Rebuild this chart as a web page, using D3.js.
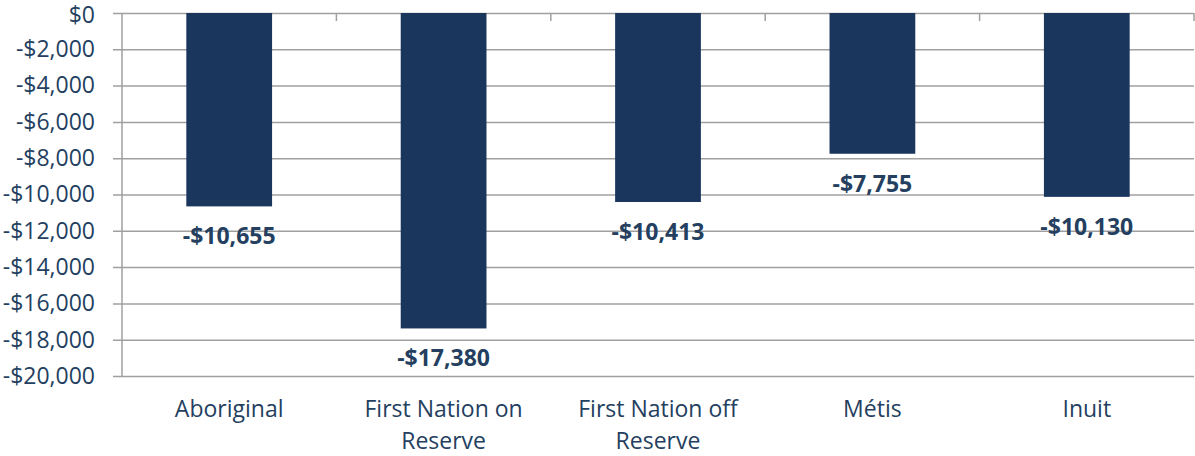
<!DOCTYPE html>
<html>
<head>
<meta charset="utf-8">
<script src="https://cdn.jsdelivr.net/npm/d3@7"></script>
<style>
  body { margin: 0; background: #fff; }
  svg { display: block; }
</style>
</head>
<body>
<div id="container"></div>
<script>
const categories = [["Aboriginal"], ["First Nation on", "Reserve"], ["First Nation off", "Reserve"], ["Métis"], ["Inuit"]];
const values = [-10655, -17380, -10413, -7755, -10130];
const yTicks = [0, -2000, -4000, -6000, -8000, -10000, -12000, -14000, -16000, -18000, -20000];

const w = 1195;
const h = 456;
const plotLeft = 122, plotRight = 1194, plotTop = 13, plotBottom = 376;
const navy = "#1b365d";
const textColor = "#243f60";
const grid = "#a0a0a0";
const font = "'Open Sans', sans-serif";

const svg = d3.select("#container").append("svg")
  .attr("width", w).attr("height", h);

const x = d3.scaleBand()
  .domain(d3.range(values.length))
  .range([plotLeft, plotRight])
  .paddingInner(0.6)
  .paddingOuter(0.3);

const y = d3.scaleLinear()
  .domain([0, -20000])
  .range([plotTop, plotBottom]);

const fmt = v => (v < 0 ? "-$" : "$") + d3.format(",")(Math.abs(v));

// gridlines + y axis
const yAxis = d3.axisLeft(y).tickValues(yTicks).tickFormat(fmt)
  .tickSize(-(plotRight - plotLeft)).tickPadding(27);
const yg = svg.append("g")
  .attr("transform", "translate(" + plotLeft + ",0)")
  .call(yAxis);
yg.select(".domain").remove();
yg.selectAll(".tick line").attr("stroke", grid).attr("stroke-width", 1.5).attr("x1", -9);
yg.selectAll(".tick text")
  .attr("fill", textColor).style("font-family", font).style("font-size", "23px");
// keep the "$0" label inside the top edge
yg.selectAll(".tick text").filter(d => d === 0).attr("dy", "0.42em");

// vertical axis line
svg.append("line")
  .attr("x1", plotLeft).attr("x2", plotLeft).attr("y1", plotTop).attr("y2", plotBottom)
  .attr("stroke", grid).attr("stroke-width", 1.5);

// category separators on the zero line
const bounds = d3.range(1, values.length + 1).map(i => plotLeft + i * (plotRight - plotLeft) / values.length);
svg.selectAll(".sep").data(bounds).enter().append("line")
  .attr("class", "sep")
  .attr("x1", d => d).attr("x2", d => d)
  .attr("y1", plotTop).attr("y2", plotTop + 8)
  .attr("stroke", grid).attr("stroke-width", 1.5);

// bars
svg.selectAll(".bar").data(values).enter().append("rect")
  .attr("class", "bar")
  .attr("x", (d, i) => x(i))
  .attr("y", y(0))
  .attr("width", x.bandwidth())
  .attr("height", d => y(d) - y(0))
  .attr("fill", navy);

// value labels
svg.selectAll(".lbl").data(values).enter().append("text")
  .attr("class", "lbl")
  .attr("x", (d, i) => x(i) + x.bandwidth() / 2)
  .attr("y", d => y(d) + 38)
  .attr("text-anchor", "middle")
  .attr("fill", textColor)
  .style("font-family", font).style("font-weight", "bold").style("font-size", "23px")
  .text(fmt);

// category labels
const cat = svg.selectAll(".cat").data(categories).enter().append("text")
  .attr("class", "cat")
  .attr("x", (d, i) => x(i) + x.bandwidth() / 2)
  .attr("y", 417)
  .attr("text-anchor", "middle")
  .attr("fill", textColor)
  .style("font-family", font).style("font-size", "23px");
cat.each(function (d, i) {
  const t = d3.select(this);
  d.forEach((line, j) => {
    t.append("tspan")
      .attr("x", x(i) + x.bandwidth() / 2)
      .attr("dy", j === 0 ? 0 : 32)
      .text(line);
  });
});
</script>
</body>
</html>
